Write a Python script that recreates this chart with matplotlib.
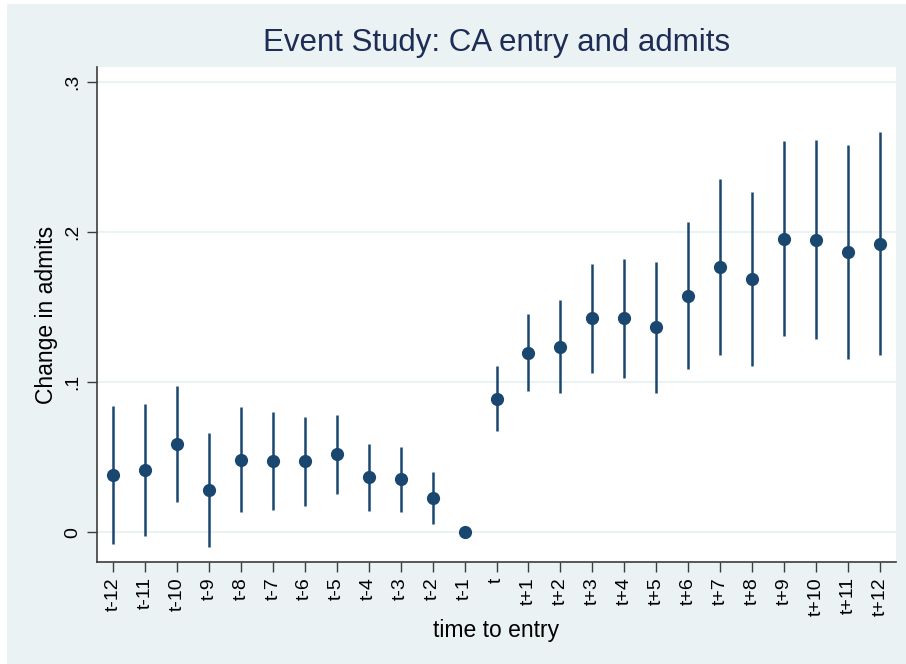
import numpy as np
import matplotlib
matplotlib.use('Agg')
import matplotlib.pyplot as plt
from matplotlib.patches import Rectangle

# Data
labels = ['t-12', 't-11', 't-10', 't-9', 't-8', 't-7', 't-6', 't-5', 't-4', 't-3', 't-2', 't-1',
          't', 't+1', 't+2', 't+3', 't+4', 't+5', 't+6', 't+7', 't+8', 't+9', 't+10', 't+11', 't+12']
coef = [0.0382, 0.0417, 0.0588, 0.0282, 0.0484, 0.0473, 0.0473, 0.0519, 0.0366, 0.0355, 0.0228, 0.0,
        0.0890, 0.1196, 0.1236, 0.1425, 0.1425, 0.1365, 0.1575, 0.1766, 0.1686, 0.1955, 0.1948, 0.1864, 0.1922]
ci_low = [-0.0078, -0.0022, 0.0204, -0.0096, 0.0133, 0.0146, 0.0177, 0.0253, 0.0142, 0.0137, 0.0057, None,
          0.0672, 0.0943, 0.0925, 0.1061, 0.1027, 0.0925, 0.1085, 0.1182, 0.1105, 0.1309, 0.1287, 0.1156, 0.1178]
ci_high = [0.0841, 0.0854, 0.0974, 0.0663, 0.0836, 0.0799, 0.0766, 0.0783, 0.0590, 0.0570, 0.0400, None,
           0.1107, 0.1451, 0.1547, 0.1786, 0.1820, 0.1800, 0.2066, 0.2350, 0.2264, 0.2604, 0.2610, 0.2577, 0.2663]
yticks = [0, 0.1, 0.2, 0.3]
ytick_labels = ['0', '.1', '.2', '.3']

navy = '#1a476f'
bg = '#eaf2f3'

plt.rcParams['font.family'] = ['Liberation Sans', 'DejaVu Sans']

fig = plt.figure(figsize=(9.06, 6.64), dpi=100)
fig.patch.set_facecolor('white')
fig.patches.append(Rectangle((7 / 906, 0), 1, 1 - 4 / 664, transform=fig.transFigure,
                             facecolor=bg, edgecolor='none', zorder=-10))

W, H = 906, 664
ax = fig.add_axes([97 / W, 1 - 562 / H, (896 - 97) / W, (562 - 67) / H])
ax.set_facecolor('white')

x = np.arange(len(labels))
for i in range(len(labels)):
    if ci_low[i] is not None:
        ax.plot([x[i], x[i]], [ci_low[i], ci_high[i]], color=navy, lw=1.8,
                solid_capstyle='butt', zorder=2)
ax.plot(x, coef, 'o', color=navy, markersize=9.5, markeredgewidth=0, zorder=3)

ax.set_xlim(-0.5, len(labels) - 0.5)
ax.set_ylim(-0.0198, 0.3098)
ax.set_yticks(yticks)
ax.set_yticklabels(ytick_labels, rotation=90, va='center', fontsize=14)
ax.set_xticks(x)
ax.set_xticklabels(labels, rotation=90, fontsize=14)
ax.grid(axis='y', color=bg, lw=1.5, zorder=0)
ax.set_axisbelow(True)
for s in ['top', 'right']:
    ax.spines[s].set_visible(False)
for s in ['left', 'bottom']:
    ax.spines[s].set_color('#3c3c3c')
    ax.spines[s].set_linewidth(1.2)
ax.tick_params(axis='both', color='#3c3c3c', length=7, width=1.0, pad=4, labelcolor='black')

ax.set_ylabel('Change in admits', fontsize=16.5, labelpad=5)
ax.set_xlabel('time to entry', fontsize=16.5, labelpad=2)
fig.text((97 + 896) / 2 / W, 1 - 43 / H, 'Event Study: CA entry and admits',
         ha='center', va='center', fontsize=22.5, color='#1e2d55')

plt.savefig('out.png', dpi=100)
